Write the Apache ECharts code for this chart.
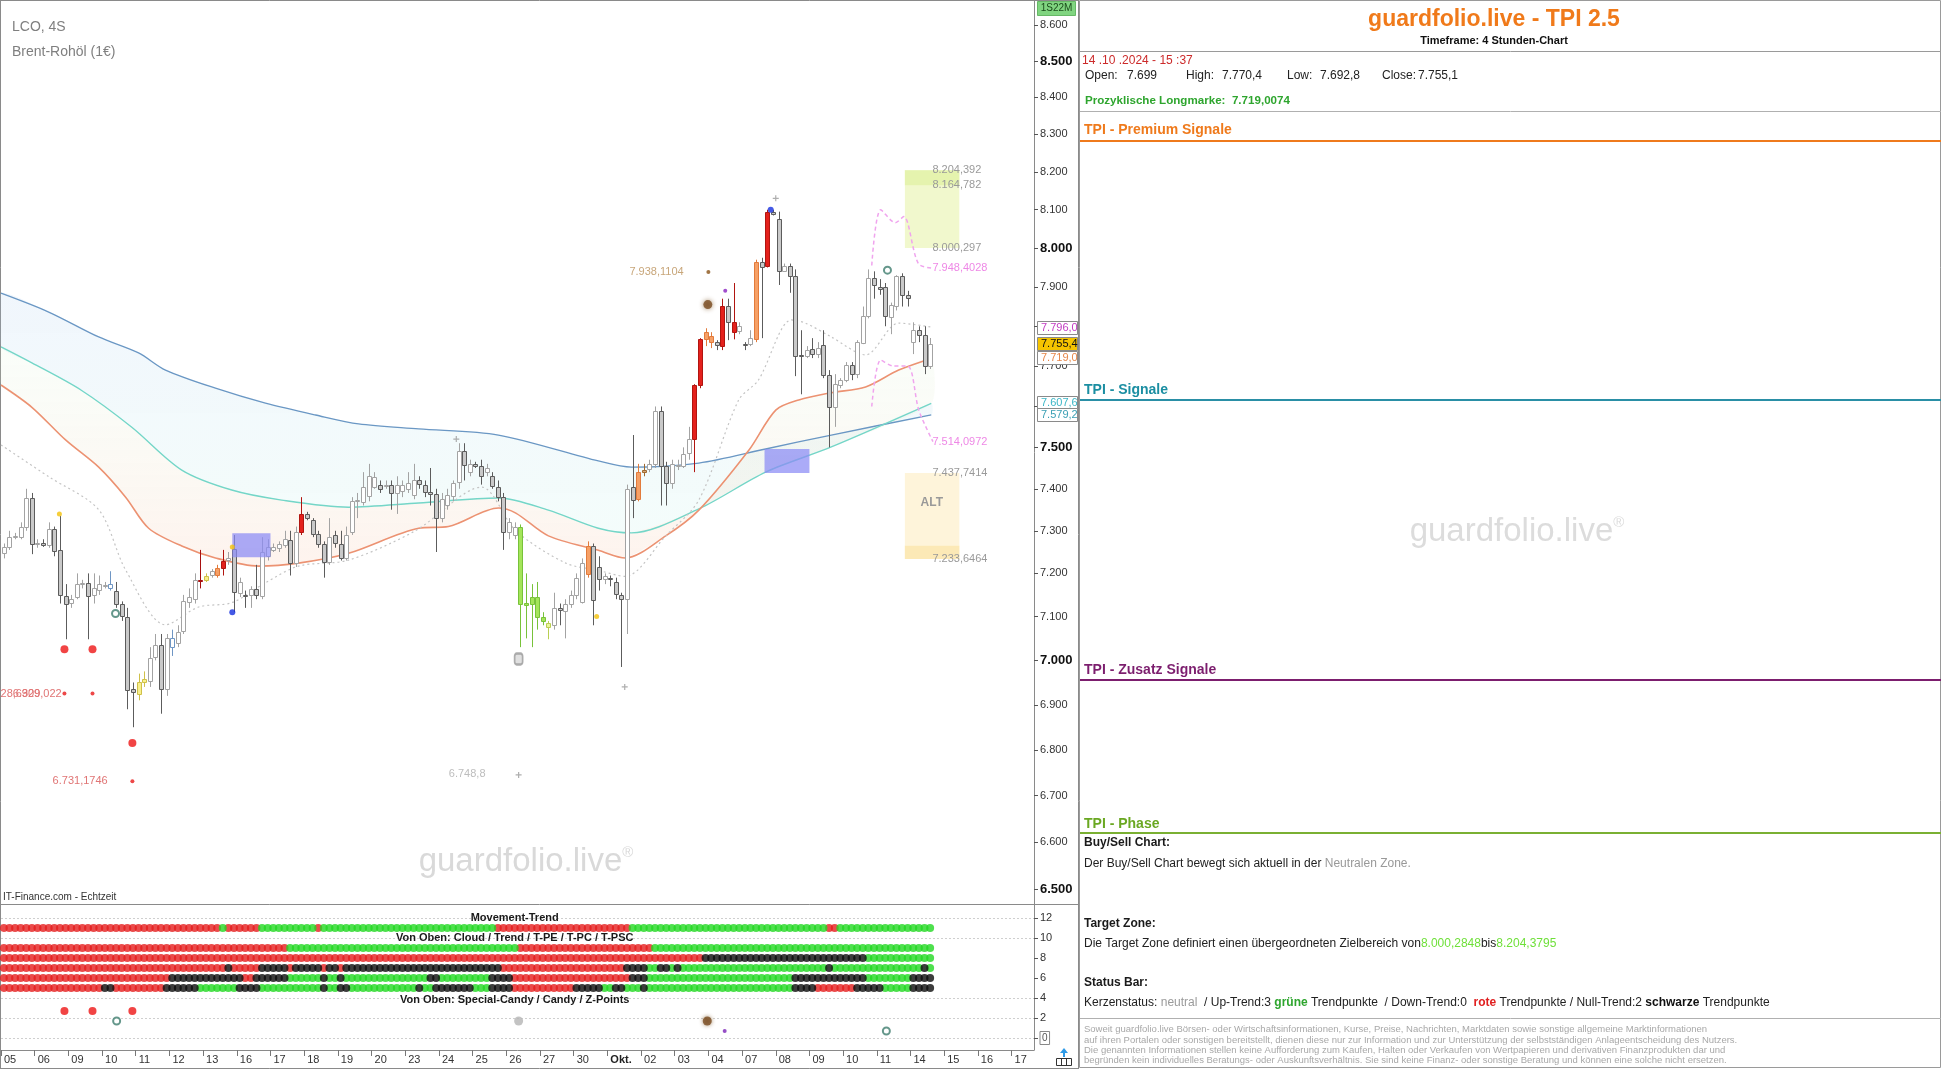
<!DOCTYPE html>
<html><head><meta charset="utf-8">
<script src="https://cdn.jsdelivr.net/npm/echarts@6.0.0/dist/echarts.min.js"></script>
<style>html,body{margin:0;padding:0;background:#fff}#c{width:1942px;height:1069px}</style>
</head><body><div id="c"></div>
<script>
// ---------- DATA ----------
const dayLabels = ['05','06','09','10','11','12','13','16','17','18','19','20','23','24','25','26','27','30','Okt.','02','03','04','07','08','09','10','11','14','15','16','17'];
const yTicks = [6.5,6.6,6.7,6.8,6.9,7.0,7.1,7.2,7.3,7.4,7.5,7.6,7.7,7.8,7.9,8.0,8.1,8.2,8.3,8.4,8.5,8.6];
const panelTicks = [0,2,4,6,8,10,12];

const open = [7.248,7.262,7.285,7.287,7.31,7.378,7.27,7.272,7.268,7.305,
7.254,7.148,7.13,7.145,7.175,7.177,7.148,7.16,7.172,7.165,
7.158,7.128,7.10,6.935,6.925,6.952,6.955,7.006,7.035,6.935,
7.03,7.04,7.065,7.133,7.14,7.185,7.185,7.195,7.197,7.213,
7.23,7.256,7.155,7.15,7.148,7.163,7.148,7.24,7.255,7.258,
7.265,7.278,7.225,7.297,7.34,7.325,7.293,7.27,7.227,7.29,
7.27,7.237,7.297,7.37,7.37,7.383,7.405,7.41,7.41,7.41,
7.39,7.395,7.40,7.383,7.42,7.408,7.392,7.388,7.33,7.36,
7.385,7.415,7.49,7.44,7.46,7.455,7.44,7.43,7.405,7.38,
7.297,7.29,7.31,7.132,7.128,7.10,7.10,7.085,7.08,7.12,
7.115,7.13,7.15,7.135,7.20,7.265,7.214,7.186,7.19,7.18,
7.15,7.14,7.405,7.375,7.44,7.448,7.46,7.59,7.455,7.415,
7.455,7.455,7.485,7.52,7.652,7.767,7.775,7.76,7.75,7.852,
7.812,7.787,7.755,7.755,7.77,7.965,7.955,8.095,8.077,7.943,
7.955,7.928,7.727,7.725,7.742,7.73,7.752,7.678,7.598,7.652,
7.665,7.702,7.68,7.76,7.827,7.923,7.90,7.90,7.825,7.852,
7.928,7.88,7.76,7.79,7.777,7.699];
const high = [7.27,7.30,7.295,7.32,7.40,7.39,7.28,7.28,7.32,7.31,
7.335,7.175,7.15,7.20,7.185,7.20,7.20,7.195,7.18,7.205,
7.18,7.135,7.12,6.95,6.97,6.975,7.03,7.06,7.06,7.06,
7.07,7.08,7.15,7.165,7.20,7.255,7.20,7.21,7.22,7.255,
7.25,7.29,7.19,7.16,7.17,7.22,7.285,7.28,7.27,7.275,
7.30,7.30,7.31,7.38,7.345,7.33,7.30,7.275,7.33,7.30,
7.30,7.31,7.38,7.39,7.44,7.46,7.44,7.42,7.42,7.42,
7.43,7.42,7.44,7.46,7.43,7.42,7.45,7.40,7.39,7.40,
7.42,7.51,7.51,7.47,7.465,7.47,7.46,7.44,7.42,7.39,
7.33,7.32,7.315,7.20,7.175,7.18,7.11,7.09,7.155,7.13,
7.14,7.16,7.20,7.235,7.275,7.27,7.24,7.20,7.195,7.19,
7.155,7.41,7.53,7.46,7.46,7.47,7.60,7.60,7.465,7.47,
7.47,7.50,7.55,7.655,7.77,7.795,7.785,7.765,7.87,7.87,
7.91,7.81,7.76,7.79,7.97,7.975,8.10,8.10,8.095,7.96,
7.96,7.945,7.79,7.75,7.77,7.76,7.79,7.69,7.68,7.67,
7.71,7.71,7.765,7.85,7.945,7.94,7.92,7.91,7.86,7.93,
7.935,7.89,7.81,7.80,7.80,7.7704];
const low = [7.235,7.255,7.28,7.28,7.30,7.245,7.26,7.262,7.26,7.24,
7.13,7.048,7.12,7.14,7.165,7.048,7.13,7.15,7.165,7.16,
7.12,7.09,6.89,6.85,6.91,6.94,6.94,7.0,6.88,6.92,
7.01,7.03,7.06,7.12,7.13,7.165,7.18,7.19,7.19,7.195,
7.22,7.11,7.145,7.12,7.12,7.14,7.14,7.23,7.25,7.25,
7.26,7.195,7.215,7.29,7.325,7.285,7.26,7.19,7.22,7.26,
7.23,7.23,7.29,7.33,7.36,7.37,7.40,7.39,7.40,7.35,
7.34,7.38,7.39,7.375,7.40,7.38,7.36,7.25,7.32,7.35,
7.37,7.40,7.42,7.43,7.45,7.41,7.43,7.40,7.37,7.255,
7.28,7.28,7.03,7.05,7.03,7.07,7.08,7.048,7.07,7.08,
7.05,7.12,7.14,7.13,7.19,7.08,7.16,7.175,7.17,7.14,
6.985,7.06,7.33,7.37,7.43,7.44,7.45,7.36,7.36,7.40,
7.445,7.45,7.47,7.44,7.645,7.75,7.745,7.74,7.74,7.765,
7.767,7.78,7.74,7.75,7.76,7.77,7.95,8.085,7.905,7.94,
7.885,7.675,7.63,7.72,7.72,7.72,7.67,7.50,7.55,7.645,
7.66,7.665,7.67,7.755,7.82,7.87,7.88,7.80,7.78,7.84,
7.85,7.85,7.73,7.76,7.68,7.6928];
const close = [7.262,7.285,7.287,7.31,7.378,7.27,7.272,7.268,7.305,7.254,
7.148,7.13,7.14,7.175,7.177,7.148,7.165,7.175,7.174,7.175,
7.128,7.10,6.935,6.928,6.952,6.958,7.006,7.034,6.935,7.05,
7.05,7.065,7.135,7.145,7.185,7.183,7.195,7.205,7.213,7.23,
7.235,7.155,7.18,7.148,7.163,7.148,7.25,7.262,7.262,7.268,
7.28,7.225,7.297,7.34,7.33,7.293,7.27,7.227,7.285,7.272,
7.237,7.29,7.37,7.372,7.405,7.43,7.428,7.40,7.41,7.39,
7.41,7.41,7.415,7.42,7.41,7.392,7.388,7.33,7.375,7.385,
7.415,7.49,7.455,7.46,7.455,7.432,7.45,7.405,7.38,7.297,
7.32,7.31,7.13,7.128,7.145,7.145,7.09,7.075,7.12,7.115,
7.13,7.15,7.19,7.225,7.265,7.14,7.186,7.193,7.188,7.151,
7.14,7.40,7.375,7.44,7.445,7.46,7.59,7.455,7.415,7.46,
7.458,7.485,7.52,7.652,7.767,7.785,7.76,7.752,7.852,7.812,
7.787,7.80,7.752,7.77,7.965,7.953,8.095,8.09,7.943,7.955,
7.928,7.725,7.725,7.74,7.73,7.745,7.678,7.598,7.655,7.665,
7.702,7.68,7.76,7.827,7.923,7.905,7.895,7.825,7.855,7.928,
7.88,7.872,7.79,7.777,7.70,7.7551];

// signal candles (0-based index)
const sigRed = [39,53,123,124,128,130,136];
const sigDarkRed = [35];
const sigOrange = [38,104,113,125,126,134];
const sigYellow = [24,25,36];
const sigLime = [92,93,94,95,96];
const sigPaleLime = [97];
const sigBlue = [19,30];
const sigBrown = [114];

// cloud / moving-average lines [barIndex, price]
const maBlue = [[-0.5,7.884],[8,7.836],[16.9,7.773],[24,7.733],[28.8,7.69],[37.7,7.645],[46.6,7.608],[55.5,7.579],[63.2,7.557],[73.9,7.545],[88.1,7.53],[105.9,7.467],[111.8,7.452],[123.8,7.462],[135.7,7.496],[147.4,7.53],[165.2,7.5792]];
const maTeal = [[-0.5,7.748],[5,7.708],[13.8,7.64],[22.8,7.549],[31.7,7.445],[40.6,7.397],[49.5,7.373],[61.4,7.356],[73.9,7.366],[88.1,7.378],[97,7.349],[105.9,7.306],[111.8,7.295],[123.8,7.352],[135.7,7.44],[147.4,7.501],[165.2,7.6076]];
const maOrange = [[-0.5,7.653],[5,7.598],[11,7.518],[16.9,7.452],[21.7,7.38],[25.8,7.306],[31.7,7.264],[37.7,7.236],[45.4,7.217],[52.5,7.224],[61.4,7.247],[73.9,7.306],[79.2,7.31],[88.1,7.354],[91.2,7.342],[97,7.288],[105.9,7.254],[110.7,7.236],[117.9,7.288],[123.8,7.349],[132.7,7.493],[137.5,7.591],[141.6,7.616],[147.4,7.634],[153.5,7.648],[159.4,7.69],[165.2,7.719]];
const trailLine = [[-0.5,7.506],[8,7.429],[16.9,7.35],[21.7,7.208],[28.8,7.081],[34.7,7.122],[40.6,7.132],[46.6,7.178],[52.5,7.217],[61.4,7.231],[73.3,7.30],[85.1,7.404],[91.2,7.30],[100.1,7.224],[105.9,7.207],[110.7,7.193],[117.9,7.288],[123.8,7.373],[130.9,7.616],[134.4,7.665],[140.3,7.816],[142.8,7.808],[147.4,7.773],[153.5,7.728],[159.4,7.808],[165.2,7.798]];
const pinkUpper = [[154.6,7.955],[156.2,8.10],[158.8,8.066],[160.3,8.082],[162.9,7.96],[165.5,7.948]];
const pinkLower = [[154.6,7.60],[156.2,7.715],[158.5,7.70],[161,7.70],[163,7.59],[165.5,7.514]];

// boxes [x0, x1, priceLow, priceHigh]
const blueBoxes = [[40.7,47.5,7.238,7.294],[135.5,143.5,7.438,7.496]];
const targetZone = [160.5,170.2,8.0003,8.2044];
const targetZoneTop = [160.5,170.2,8.1648,8.2044];
const altZone = [160.5,170.2,7.2336,7.4377];
const altZoneBottom = [160.5,170.2,7.2336,7.265];

// markers [barIndex, price]
const redBig = [[10.8,7.025],[15.8,7.025],[22.9,6.815]];
const redSmall = [[10.8,6.925],[15.8,6.925],[22.9,6.731]];
const yellowDots = [[9.9,7.34],[40.7,7.262],[105.6,7.10]];
const blueDots = [[40.7,7.11],[136.6,8.10]];
const purpleDots = [[128.5,7.89]];
const brownSmall = [[125.5,7.938]];
const brownBig = [[125.4,7.855]];
const grayPlus = [[80.6,7.52],[137.5,8.13],[110.6,6.94],[91.7,6.745]];
const greenRings = [[19.9,7.107],[157.4,7.943]];
const grayBlob = [[91.7,7.003]];

// chart annotations [barIndex, price, text]
const notesRed = [[6.5,6.925,'6.928,6309'],[10.3,6.925,'6.929,022'],[18.5,6.731,'6.731,1746']];
const notesGray = [[85.8,6.748,'6.748,8']];
const notesTan = [[121.1,7.938,'7.938,1104']];
const zoneNotesGray = [[165.4,8.2044,'8.204,392'],[165.4,8.1648,'8.164,782'],[165.4,8.0003,'8.000,297'],[165.4,7.4377,'7.437,7414'],[165.4,7.2336,'7.233,6464']];
const zoneNotesPink = [[165.4,7.9484,'7.948,4028'],[165.4,7.5141,'7.514,0972']];
const altLabel = [[165.3,7.366,'ALT']];

// right-axis value tags
const axisTagValues = [7.796,7.7554,7.719,7.6076,7.5792];
const axisTagTexts = ['7.796,0','7.755,4','7.719,0','7.607,6','7.579,2'];

// status bar rows [from, to, state]
const rowMove = [[0,38,'r'],[39,39,'g'],[40,45,'r'],[46,55,'g'],[56,56,'r'],[57,87,'g'],[88,111,'r'],[112,146,'g'],[147,148,'r'],[149,165,'g']];
const rowCloud = [[0,50,'r'],[51,91,'g'],[92,115,'r'],[116,165,'g']];
const rowTrend = [[0,124,'r'],[125,153,'k'],[154,165,'g']];
const rowPE = [[0,39,'r'],[40,40,'k'],[41,45,'r'],[46,50,'k'],[51,51,'r'],[52,56,'k'],[57,57,'r'],[58,59,'k'],[60,60,'r'],[61,88,'k'],[89,110,'r'],[111,114,'k'],[115,116,'g'],[117,118,'k'],[119,119,'g'],[120,120,'k'],[121,146,'g'],[147,147,'k'],[148,163,'g'],[164,164,'k'],[165,165,'g']];
const rowPC = [[0,29,'r'],[30,42,'k'],[43,44,'r'],[45,50,'k'],[51,56,'g'],[57,57,'k'],[58,59,'g'],[60,60,'k'],[61,75,'g'],[76,77,'k'],[78,86,'g'],[87,90,'k'],[91,111,'r'],[112,114,'k'],[115,140,'g'],[141,153,'k'],[154,161,'g'],[162,165,'k']];
const rowPSC = [[0,17,'r'],[18,19,'k'],[20,28,'r'],[29,34,'k'],[35,41,'g'],[42,45,'k'],[46,56,'g'],[57,57,'k'],[58,59,'g'],[60,61,'k'],[62,73,'g'],[74,74,'k'],[75,76,'g'],[77,83,'k'],[84,86,'g'],[87,90,'k'],[91,101,'r'],[102,106,'k'],[107,108,'g'],[109,110,'k'],[111,113,'g'],[114,114,'k'],[115,140,'g'],[141,144,'k'],[145,151,'r'],[152,156,'k'],[157,161,'g'],[162,165,'k']];
const rowLevels = [11,9,8,7,6,5];
const specialCandy = [[10.8,2.7],[15.8,2.7],[22.9,2.7]];
const candyRings = [[20.1,1.7]];
const candyGray = [[91.7,1.7]];
const candyBrown = [[125.3,1.7]];
const zPointPurple = [[128.4,0.7]];
const zPointRings = [[157.2,0.7]];
const panelNotes = [[91,12.05,'Movement-Trend'],[91,10.05,'Von Oben: Cloud / Trend / T-PE / T-PC / T-PSC'],[91,3.85,'Von Oben: Special-Candy / Candy / Z-Points']];

// ---------- BUILD ----------
const FONT = '"Liberation Sans", Arial, sans-serif';
const L = Math.log;
const X_MIN = -0.5, X_MAX = 183.5;
const lg = arr => arr.map(p => [p[0], L(p[1])]);

const sigMap = {};
sigRed.forEach(i => sigMap[i] = 'red');
sigDarkRed.forEach(i => sigMap[i] = 'darkred');
sigOrange.forEach(i => sigMap[i] = 'orange');
sigYellow.forEach(i => sigMap[i] = 'yellow');
sigLime.forEach(i => sigMap[i] = 'lime');
sigPaleLime.forEach(i => sigMap[i] = 'palelime');
sigBlue.forEach(i => sigMap[i] = 'blue');
sigBrown.forEach(i => sigMap[i] = 'brown');
const candleStyles = {
  bull: {fill:'#ffffff', stroke:'#a3a3a3'},
  bear: {fill:'#c9c9c9', stroke:'#5c5c5c'},
  red: {fill:'#e4211c', stroke:'#b11510'},
  darkred: {fill:'#c41a1a', stroke:'#a81010'},
  orange: {fill:'#f6a066', stroke:'#e27b3c'},
  yellow: {fill:'#f8f08c', stroke:'#cfc04a'},
  lime: {fill:'#a4e55a', stroke:'#78c23a'},
  palelime: {fill:'#e9f59c', stroke:'#b9cf52'},
  blue: {fill:'#ffffff', stroke:'#6f96c4'},
  brown: {fill:'#d6a878', stroke:'#a06a30'}
};
const candles = open.map((o, i) => [i, L(o), L(close[i]), L(low[i]), L(high[i])]);

function renderCandle(params, api) {
  const i = api.value(0);
  const o = api.value(1), c = api.value(2);
  const pO = api.coord([i, o]), pC = api.coord([i, c]);
  const pL = api.coord([i, api.value(3)]), pH = api.coord([i, api.value(4)]);
  const cx = Math.round(pO[0]) + 0.5;
  const st = candleStyles[sigMap[i] || (c >= o ? 'bull' : 'bear')];
  const top = Math.round(Math.min(pO[1], pC[1])) + 0.5;
  const h = Math.max(1, Math.round(Math.abs(pO[1] - pC[1])));
  return {type:'group', children:[
    {type:'line', shape:{x1:cx, y1:pH[1], x2:cx, y2:pL[1]}, style:{stroke:st.stroke, lineWidth:1}},
    {type:'rect', shape:{x:cx-2, y:top, width:4, height:h}, style:{fill:st.fill, stroke:st.stroke, lineWidth:1}}
  ]};
}

function boxSeries(boxes, fill, z) {
  return {type:'custom', xAxisIndex:0, yAxisIndex:0, z:z, silent:true,
    data: boxes.map(b => [b[0], b[1], L(b[2]), L(b[3])]),
    renderItem: (p, api) => {
      const a = api.coord([api.value(0), api.value(3)]);
      const b = api.coord([api.value(1), api.value(2)]);
      return {type:'rect', shape:{x:a[0], y:a[1], width:b[0]-a[0], height:b[1]-a[1]}, style:{fill:fill}};
    }};
}

function textSeries(items, style, gridIdx, clip, isPanel) {
  return {type:'custom', xAxisIndex:gridIdx, yAxisIndex:gridIdx, z:6, silent:true, clip:!!clip,
    data: items.map(t => [t[0], isPanel ? t[1] : L(t[1])]),
    renderItem: (p, api) => {
      const pt = api.coord([api.value(0), api.value(1)]);
      return {type:'text', x:pt[0], y:pt[1], style:Object.assign({text: items[p.dataIndex][2]}, style)};
    }};
}

function bandSeries(upper, lower, colors) {
  return {type:'custom', xAxisIndex:0, yAxisIndex:0, z:1, silent:true, data:[[0,0]],
    renderItem: (p, api) => {
      const pts = [];
      upper.forEach(q => pts.push(api.coord([q[0], L(q[1])])));
      lower.slice().reverse().forEach(q => pts.push(api.coord([q[0], L(q[1])])));
      return {type:'polygon', shape:{points:pts, smooth:0.2},
        style:{fill: new echarts.graphic.LinearGradient(0,0,0,1, colors)}};
    }};
}

function lineSeries(data, color, width, type, z) {
  return {type:'line', xAxisIndex:0, yAxisIndex:0, data: lg(data), showSymbol:false, symbol:'none',
    smooth:0.3, z:z||3, silent:true, lineStyle:{color:color, width:width, type:type||'solid'}};
}

function scat(data, gridIdx, isPanel, opt) {
  return Object.assign({type:'scatter', xAxisIndex:gridIdx, yAxisIndex:gridIdx, silent:true, z:7,
    data: isPanel ? data : lg(data)}, opt);
}

const dotSets = {r:[], g:[], k:[]};
[rowMove,rowCloud,rowTrend,rowPE,rowPC,rowPSC].forEach((segs, ri) => {
  segs.forEach(s => { for (let i = s[0]; i <= s[1]; i++) dotSets[s[2]].push([i, rowLevels[ri]]); });
});

const chart = echarts.init(document.getElementById('c'), null, {renderer:'canvas'});
const tagColors = [
  {text:'#c23cc2', bg:'#ffffff'},
  {text:'#111111', bg:'#f6c400'},
  {text:'#e6874a', bg:'#ffffff'},
  {text:'#3cb7c7', bg:'#ffffff'},
  {text:'#3a9fb4', bg:'#ffffff'}
];
const T = (x, y, text, font, fill, extra) => ({type:'text', x:x, y:y,
  style:Object.assign({text:text, font:font, fill:fill, verticalAlign:'middle'}, extra || {})});
const HL = (y, color, w) => ({type:'line', shape:{x1:1080, y1:y, x2:1941, y2:y}, style:{stroke:color, lineWidth:w||1}});

const option = {
  animation:false,
  textStyle:{fontFamily:FONT},
  grid:[
    {left:1, top:1, width:1033, height:903, show:false},
    {left:1, top:905, width:1033, height:145, show:false}
  ],
  xAxis:[
    {gridIndex:0, type:'value', min:X_MIN, max:X_MAX, show:false},
    {gridIndex:1, type:'value', min:X_MIN, max:X_MAX,
      axisLine:{show:true, onZero:false, lineStyle:{color:'#8a8a8a'}},
      axisTick:{show:true, length:6, customValues: dayLabels.map((d,i)=>i*6-0.5), lineStyle:{color:'#777'}},
      splitLine:{show:false},
      axisLabel:{customValues: dayLabels.map((d,i)=>i*6-0.5), align:'left', margin:4, padding:[0,0,0,3],
        fontSize:11, color:'#333', fontFamily:FONT,
        formatter: v => { const d = dayLabels[Math.round((v+0.5)/6)] || ''; return d === 'Okt.' ? '{b|Okt.}' : d; },
        rich:{b:{fontWeight:'bold', fontSize:11, color:'#222'}}}}
  ],
  yAxis:[
    {gridIndex:0, type:'value', position:'right', min:L(6.4688), max:L(8.6666),
      axisLine:{show:true, onZero:false, lineStyle:{color:'#8a8a8a'}},
      axisTick:{show:true, length:4, inside:false, customValues: yTicks.map(L), lineStyle:{color:'#555'}},
      splitLine:{show:false},
      axisLabel:{customValues: yTicks.map(L), margin:6, fontSize:11, color:'#333', fontFamily:FONT,
        formatter: v => { const p = Math.exp(v); const s = p.toFixed(3);
          return Math.abs(p*2 - Math.round(p*2)) < 1e-6 ? '{b|'+s+'}' : s; },
        rich:{b:{fontWeight:'bold', fontSize:13, color:'#111'}}}},
    {gridIndex:1, type:'value', position:'right', min:-1.2, max:13.3,
      axisLine:{show:true, onZero:false, lineStyle:{color:'#8a8a8a'}},
      axisTick:{show:true, length:4, customValues: panelTicks, lineStyle:{color:'#555'}},
      splitLine:{show:false},
      axisLabel:{customValues: panelTicks, margin:6, fontSize:11, color:'#333', fontFamily:FONT,
        formatter: v => v === 0 ? '{box|0}' : String(v),
        rich:{box:{borderColor:'#888', borderWidth:1, padding:[2,2,1,2], color:'#555', fontSize:10}}}}
  ],
  series:[
    bandSeries(maBlue, maTeal, [{offset:0,color:'rgba(165,200,240,0.16)'},{offset:1,color:'rgba(180,238,228,0.15)'}]),
    bandSeries(maTeal, maOrange, [{offset:0,color:'rgba(215,244,210,0.13)'},{offset:1,color:'rgba(250,196,168,0.2)'}]),
    lineSeries(maBlue, '#6a97c4', 1.3),
    lineSeries(maTeal, '#74d6c8', 1.4),
    lineSeries(maOrange, '#ec9272', 1.6),
    lineSeries(trailLine, '#c4c4c4', 1.2, [2,3], 3),
    lineSeries(pinkUpper, '#f0a4ee', 1.5, [4,3], 3),
    lineSeries(pinkLower, '#f0a4ee', 1.5, [4,3], 3),
    boxSeries([targetZone], 'rgba(238,247,196,0.85)', 1),
    boxSeries([targetZoneTop], 'rgba(228,243,172,0.9)', 1),
    boxSeries([altZone], 'rgba(254,243,214,0.9)', 1),
    boxSeries([altZoneBottom], 'rgba(252,232,178,0.9)', 1),
    {type:'custom', xAxisIndex:0, yAxisIndex:0, z:4, silent:true, data:candles,
      encode:{x:0, y:[1,2,3,4]}, renderItem:renderCandle},
    boxSeries(blueBoxes, 'rgba(138,138,245,0.72)', 5),
    scat(redBig, 0, false, {symbol:'circle', symbolSize:8, itemStyle:{color:'#ee1515'}}),
    scat(redSmall, 0, false, {symbol:'circle', symbolSize:4, itemStyle:{color:'#e81a1a'}}),
    scat(yellowDots, 0, false, {symbol:'circle', symbolSize:5, itemStyle:{color:'#f4c20a'}}),
    scat(blueDots, 0, false, {symbol:'circle', symbolSize:6, itemStyle:{color:'#1530e0'}}),
    scat(purpleDots, 0, false, {symbol:'circle', symbolSize:4, itemStyle:{color:'#8a22c0'}}),
    scat(brownSmall, 0, false, {symbol:'circle', symbolSize:4, itemStyle:{color:'#8a5316'}}),
    scat(brownBig, 0, false, {symbol:'circle', symbolSize:9, itemStyle:{color:'#7a4c22', shadowBlur:5, shadowColor:'rgba(120,80,30,0.8)'}}),
    scat(grayPlus, 0, false, {symbol:'path://M4,0h2v4h4v2h-4v4h-2v-4h-4v-2h4z', symbolSize:6, itemStyle:{color:'#9a9a9a'}}),
    scat(greenRings, 0, false, {symbol:'circle', symbolSize:7, itemStyle:{color:'#ffffff', borderColor:'#3f7d6e', borderWidth:2}}),
    scat(grayBlob, 0, false, {symbol:'roundRect', symbolSize:[8,11], itemStyle:{color:'#d8d8d8', borderColor:'#9a9a9a', borderWidth:2}}),
    textSeries(notesRed, {fill:'#e07474', font:'11px '+FONT, align:'right', verticalAlign:'middle'}, 0, true),
    textSeries(notesGray, {fill:'#bdbdbd', font:'11px '+FONT, align:'right', verticalAlign:'middle'}, 0, true),
    textSeries(notesTan, {fill:'#c8a67a', font:'11px '+FONT, align:'right', verticalAlign:'middle'}, 0, true),
    textSeries(zoneNotesGray, {fill:'#9a9a9a', font:'11px '+FONT, align:'left', verticalAlign:'middle'}, 0, false),
    textSeries(zoneNotesPink, {fill:'#ee88e6', font:'11px '+FONT, align:'left', verticalAlign:'middle'}, 0, false),
    textSeries(altLabel, {fill:'#999999', font:'bold 12px '+FONT, align:'center', verticalAlign:'middle'}, 0, false),
    {type:'custom', xAxisIndex:0, yAxisIndex:0, z:9, silent:true, clip:false,
      data: axisTagValues.map(v => [X_MAX, L(v)]),
      renderItem: (p, api) => {
        const pt = api.coord([api.value(0), api.value(1)]);
        const c = tagColors[p.dataIndex];
        return {type:'group', children:[
          {type:'rect', shape:{x:pt[0]+3.5, y:Math.round(pt[1])-6.5, width:40, height:13},
            style:{fill:c.bg, stroke:'#8a8a8a', lineWidth:1}},
          {type:'text', x:pt[0]+7, y:Math.round(pt[1]), style:{text:axisTagTexts[p.dataIndex], fill:c.text,
            font:'11px '+FONT, align:'left', verticalAlign:'middle'}}
        ]};
      }},
    scat(dotSets.r, 1, true, {symbol:'circle', symbolSize:8, itemStyle:{color:'#e51e1e'},
      markLine:{silent:true, symbol:'none', label:{show:false},
        lineStyle:{color:'#cfcfcf', type:[2,2], width:1},
        data:[{yAxis:0},{yAxis:2},{yAxis:4},{yAxis:10},{yAxis:12}]}}),
    scat(dotSets.g, 1, true, {symbol:'circle', symbolSize:8, itemStyle:{color:'#22d822'}}),
    scat(dotSets.k, 1, true, {symbol:'circle', symbolSize:8, itemStyle:{color:'#0c0c0c'}}),
    scat(specialCandy, 1, true, {symbol:'circle', symbolSize:8, itemStyle:{color:'#ee1515'}}),
    scat(candyRings.concat(zPointRings), 1, true, {symbol:'circle', symbolSize:7, itemStyle:{color:'#ffffff', borderColor:'#3f7d6e', borderWidth:2}}),
    scat(candyGray, 1, true, {symbol:'circle', symbolSize:9, itemStyle:{color:'#b4b4b4'}}),
    scat(candyBrown, 1, true, {symbol:'circle', symbolSize:9, itemStyle:{color:'#7a4c22', shadowBlur:4, shadowColor:'rgba(120,80,30,0.8)'}}),
    scat(zPointPurple, 1, true, {symbol:'circle', symbolSize:4, itemStyle:{color:'#7a22b8'}}),
    textSeries(panelNotes, {fill:'#1a1a1a', font:'bold 11px '+FONT, align:'center', verticalAlign:'middle'}, 1, false, true)
  ],
  graphic:[
    {type:'line', z:-1, shape:{x1:0, y1:0.5, x2:1079, y2:0.5}, style:{stroke:'#8a8a8a'}},
    {type:'line', z:-1, shape:{x1:0.5, y1:0, x2:0.5, y2:1069}, style:{stroke:'#8a8a8a'}},
    {type:'line', z:-1, shape:{x1:0, y1:904.5, x2:1079, y2:904.5}, style:{stroke:'#8a8a8a'}},
    {type:'line', z:-1, shape:{x1:1078.5, y1:0, x2:1078.5, y2:1069}, style:{stroke:'#8a8a8a'}},
    {type:'line', z:-1, shape:{x1:0, y1:1068.5, x2:1079, y2:1068.5}, style:{stroke:'#8a8a8a'}},
    T(12, 27, 'LCO, 4S', '14px '+FONT, '#7f7f7f'),
    T(12, 52, 'Brent-Rohöl (1€)', '14px '+FONT, '#7f7f7f'),
    T(3, 897, 'IT-Finance.com - Echtzeit', '10px '+FONT, '#333'),
    {type:'text', x:526, y:862, z:-2, style:{text:'{a|guardfolio.live}{b|®}', align:'center', verticalAlign:'middle',
      rich:{a:{font:'33px '+FONT, fill:'#d9d9d9'}, b:{font:'15px '+FONT, fill:'#d9d9d9', verticalAlign:'top', padding:[0,0,14,0]}}}},
    {type:'rect', shape:{x:1037.5, y:1.5, width:38, height:14}, style:{fill:'#80d580', stroke:'#66b866'}},
    T(1056.5, 8.5, '1S22M', '10px '+FONT, '#1b4d1b', {align:'center'}),
    {type:'rect', shape:{x:1056.5, y:1058.5, width:15, height:7}, style:{fill:'#fff', stroke:'#333'}},
    {type:'line', shape:{x1:1061.5, y1:1059, x2:1061.5, y2:1065}, style:{stroke:'#333'}},
    {type:'line', shape:{x1:1066.5, y1:1059, x2:1066.5, y2:1065}, style:{stroke:'#333'}},
    {type:'polygon', shape:{points:[[1064,1048],[1060,1053],[1068,1053]]}, style:{fill:'#2f9be8'}},
    {type:'rect', shape:{x:1063, y:1052, width:2, height:5}, style:{fill:'#2f9be8'}},

    // ---------- right panel ----------
    {type:'rect', shape:{x:1079.5, y:0.5, width:861, height:1067}, style:{fill:'none', stroke:'#9a9a9a'}},
    T(1494, 20, 'guardfolio.live - TPI 2.5', 'bold 23px '+FONT, '#f07a1a', {align:'center'}),
    T(1494, 41, 'Timeframe: 4 Stunden-Chart', 'bold 11px '+FONT, '#111', {align:'center'}),
    HL(51.5, '#9a9a9a'),
    T(1082, 61, '14 .10 .2024 - 15 :37', '12px '+FONT, '#cc2a2a'),
    T(1085, 76, 'Open:', '12px '+FONT, '#222'),
    T(1127, 76, '7.699', '12px '+FONT, '#222'),
    T(1186, 76, 'High:', '12px '+FONT, '#222'),
    T(1222, 76, '7.770,4', '12px '+FONT, '#222'),
    T(1287, 76, 'Low:', '12px '+FONT, '#222'),
    T(1320, 76, '7.692,8', '12px '+FONT, '#222'),
    T(1382, 76, 'Close:', '12px '+FONT, '#222'),
    T(1418, 76, '7.755,1', '12px '+FONT, '#222'),
    T(1085, 101, 'Prozyklische Longmarke:  7.719,0074', 'bold 11.6px '+FONT, '#2ea52e'),
    HL(111.5, '#b0b0b0'),
    T(1084, 130, 'TPI - Premium Signale', 'bold 14px '+FONT, '#ef7a1c'),
    HL(141, '#ef7a1c', 2),
    T(1084, 390, 'TPI - Signale', 'bold 14px '+FONT, '#1b8ea2'),
    HL(400, '#2a8fa6', 2),
    T(1084, 670, 'TPI - Zusatz Signale', 'bold 14px '+FONT, '#7c1e6e'),
    HL(680, '#7c1e6e', 2),
    T(1084, 824, 'TPI - Phase', 'bold 14px '+FONT, '#6aa822'),
    HL(833, '#7ab032', 2),
    {type:'text', x:1517, y:532, style:{text:'{a|guardfolio.live}{b|®}', align:'center', verticalAlign:'middle',
      rich:{a:{font:'33px '+FONT, fill:'#dcdcdc'}, b:{font:'15px '+FONT, fill:'#dcdcdc', verticalAlign:'top', padding:[0,0,14,0]}}}},
    T(1084, 843, 'Buy/Sell Chart:', 'bold 12px '+FONT, '#1a1a1a'),
    {type:'text', x:1084, y:864, style:{text:'{n|Der Buy/Sell Chart bewegt sich aktuell in der }{g|Neutralen Zone.}', verticalAlign:'middle',
      rich:{n:{font:'12px '+FONT, fill:'#222'}, g:{font:'12px '+FONT, fill:'#999'}}}},
    T(1084, 924, 'Target Zone:', 'bold 12px '+FONT, '#1a1a1a'),
    {type:'text', x:1084, y:944, style:{text:'{n|Die Target Zone definiert einen übergeordneten Zielbereich von}{v|8.000,2848}{n|bis}{v|8.204,3795}', verticalAlign:'middle',
      rich:{n:{font:'12px '+FONT, fill:'#222'}, v:{font:'12px '+FONT, fill:'#6fe03a'}}}},
    T(1084, 983, 'Status Bar:', 'bold 12px '+FONT, '#1a1a1a'),
    {type:'text', x:1084, y:1003, style:{text:'{n|Kerzenstatus: }{gr|neutral}{n|  / Up-Trend:3 }{gb|grüne}{n| Trendpunkte  / Down-Trend:0  }{rb|rote}{n| Trendpunkte / Null-Trend:2 }{kb|schwarze}{n| Trendpunkte}', verticalAlign:'middle',
      rich:{n:{font:'12px '+FONT, fill:'#222'}, gr:{font:'12px '+FONT, fill:'#9a9a9a'}, gb:{font:'bold 12px '+FONT, fill:'#2ea52e'},
        rb:{font:'bold 12px '+FONT, fill:'#e02020'}, kb:{font:'bold 12px '+FONT, fill:'#111'}}}},
    HL(1018.5, '#b0b0b0'),
    T(1084, 1029, 'Soweit guardfolio.live Börsen- oder Wirtschaftsinformationen, Kurse, Preise, Nachrichten, Marktdaten sowie sonstige allgemeine Marktinformationen', '9.5px '+FONT, '#a8a8a8'),
    T(1084, 1040, 'auf ihren Portalen oder sonstigen bereitstellt, dienen diese nur zur Information und zur Unterstützung der selbstständigen Anlageentscheidung des Nutzers.', '9.5px '+FONT, '#a8a8a8'),
    T(1084, 1050, 'Die genannten Informationen stellen keine Aufforderung zum Kaufen, Halten oder Verkaufen von Wertpapieren und derivativen Finanzprodukten dar und', '9.5px '+FONT, '#a8a8a8'),
    T(1084, 1060, 'begründen kein individuelles Beratungs- oder Auskunftsverhältnis. Sie sind keine Finanz- oder sonstige Beratung und können eine solche nicht ersetzen.', '9.5px '+FONT, '#a8a8a8')
  ]
};
chart.setOption(option);
</script></body></html>
